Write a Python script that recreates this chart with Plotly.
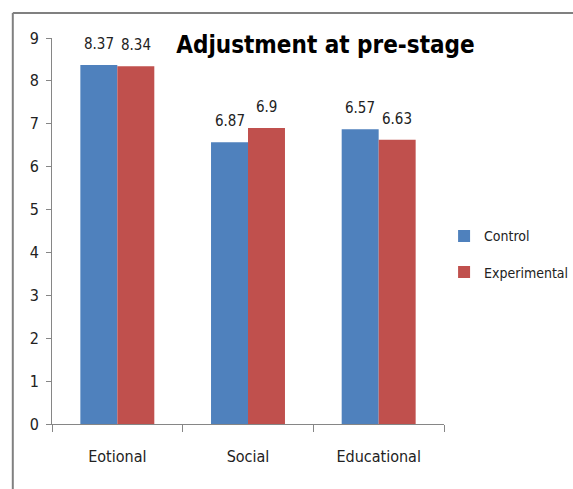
import plotly.graph_objects as go

categories = ["Eotional", "Social", "Educational"]
control_values = [8.37, 6.57, 6.87]
experimental_values = [8.34, 6.9, 6.63]
control_labels = ["8.37", "6.87", "6.57"]
experimental_labels = ["8.34", "6.9", "6.63"]
y_ticks = [0, 1, 2, 3, 4, 5, 6, 7, 8, 9]

FONT = "DejaVu Sans Condensed, Liberation Sans Narrow, sans-serif"

fig = go.Figure()
fig.add_trace(go.Bar(name="Control", x=categories, y=control_values,
                     marker=dict(color="#4F81BD", line=dict(width=0)),
                     legendgroup="c"))
fig.add_trace(go.Bar(name="Experimental", x=categories, y=experimental_values,
                     marker=dict(color="#C0504D", line=dict(width=0)),
                     legendgroup="e"))

# value labels above each bar
for series_vals, series_labels, shift in ((control_values, control_labels, -18.5),
                                          (experimental_values, experimental_labels, 18.5)):
    for cat, val, lab in zip(categories, series_vals, series_labels):
        fig.add_annotation(x=cat, y=val, text=lab, showarrow=False,
                           xshift=shift, yshift=10, yanchor="bottom",
                           font=dict(size=15, color="#222"))

fig.update_layout(
    width=573, height=489,
    margin=dict(l=52, r=129, t=38, b=65, autoexpand=False),
    paper_bgcolor="white", plot_bgcolor="white",
    font=dict(family=FONT, size=15, color="#222"),
    barmode="group", bargap=0.434, bargroupgap=0,
    title=dict(text="<b>Adjustment at pre-stage</b>", x=0.568, xanchor="center",
               xref="container", y=0.908, yanchor="middle",
               font=dict(family=FONT, size=24, color="black")),
    legend=dict(xref="container", yref="container", x=0.775, y=0.48,
                xanchor="left", yanchor="middle",
                font=dict(size=14, color="#222"), tracegroupgap=15,
                itemwidth=30, bgcolor="rgba(0,0,0,0)"),
    showlegend=True,
)
fig.update_xaxes(showline=True, linecolor="#868686", linewidth=1,
                 ticks="outside", ticklen=7, tickcolor="#868686",
                 tickson="boundaries", showgrid=False, automargin=False,
                 ticklabelstandoff=18,
                 tickfont=dict(size=16, color="#222"))
fig.update_yaxes(range=[0, 9], tickvals=y_ticks, showline=True, linecolor="#868686",
                 linewidth=1, ticks="outside", ticklen=5, tickcolor="#868686",
                 showgrid=False, zeroline=False, automargin=False,
                 ticklabelstandoff=4,
                 tickfont=dict(size=16, color="#222"))

fig.add_shape(type="line", xref="paper", yref="paper", x0=-0.1, x1=1.5,
              y0=1.065, y1=1.065, line=dict(color="#808080", width=2))
fig.add_shape(type="line", xref="paper", yref="paper", x0=-0.1, x1=-0.1,
              y0=1.065, y1=-0.2, line=dict(color="#808080", width=2))

fig.write_html("out.html", config={"displayModeBar": False},
               post_script="document.body.style.margin='0px';")
